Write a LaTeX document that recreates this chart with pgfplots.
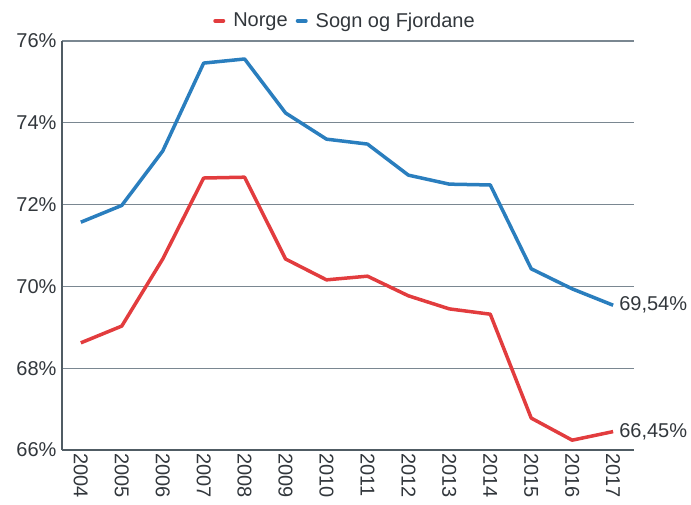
\documentclass[border=0pt]{standalone}
\usepackage{pgfplots}
\pgfplotsset{compat=1.18}
\usepackage{fontspec}
\setmainfont{Liberation Sans}
\definecolor{cred}{RGB}{226,60,62}
\definecolor{cblue}{RGB}{42,126,190}
\definecolor{cgrid}{RGB}{122,135,145}
\definecolor{caxis}{RGB}{80,92,100}
\definecolor{ctext}{RGB}{50,55,60}
\begin{document}
\begin{tikzpicture}
\begin{axis}[
  at={(0pt,0pt)}, anchor=south west,
  scale only axis, width=572pt, height=409pt,
  xmin=-0.46, xmax=13.51, ymin=66, ymax=76,
  axis x line*=bottom, axis y line*=left,
  axis line style={caxis, line width=1.6pt, -},
  ytick={66,68,70,72,74,76},
  yticklabels={66\%,68\%,70\%,72\%,74\%,76\%},
  xtick={0,...,13},
  xticklabels={2004,2005,2006,2007,2008,2009,2010,2011,2012,2013,2014,2015,2016,2017},
  x tick label style={rotate=-90, anchor=west, overlay},
  tick style={draw=none},
  ymajorgrids, grid style={cgrid, line width=1.2pt},
  tick label style={font=\fontsize{20}{24}\selectfont, text=ctext},
  y tick label style={xshift=-2pt},
  clip=false,
  legend style={at={(0.5,1)}, anchor=south, yshift=8pt, xshift=-3pt, draw=none, fill=none,
    font=\fontsize{20}{24}\selectfont, text=ctext, column sep=6pt},
  legend columns=2,
  legend image code/.code={\draw[#1, line width=4pt, line cap=round] (0pt,0pt) -- (8pt,0pt);},
]
\addplot[cred, line width=3.5pt, line join=round] coordinates {
(0,68.62) (1,69.03) (2,70.67) (3,72.65) (4,72.67) (5,70.67) (6,70.16) (7,70.25) (8,69.77) (9,69.45) (10,69.32) (11,66.78) (12,66.24) (13,66.45)};
\addlegendentry{Norge}
\addplot[cblue, line width=3.5pt, line join=round] coordinates {
(0,71.57) (1,71.98) (2,73.31) (3,75.46) (4,75.56) (5,74.24) (6,73.60) (7,73.48) (8,72.72) (9,72.50) (10,72.48) (11,70.43) (12,69.94) (13,69.54)};
\addlegendentry{Sogn og Fjordane}
\node[anchor=west, font=\fontsize{20}{24}\selectfont, text=ctext, inner sep=0pt, xshift=6pt] at (axis cs:13,69.54) {69,54\%};
\node[anchor=west, font=\fontsize{20}{24}\selectfont, text=ctext, inner sep=0pt, xshift=6pt] at (axis cs:13,66.45) {66,45\%};
\end{axis}
\path (-62pt,-54pt) rectangle (629pt,450pt);
\end{tikzpicture}
\end{document}
